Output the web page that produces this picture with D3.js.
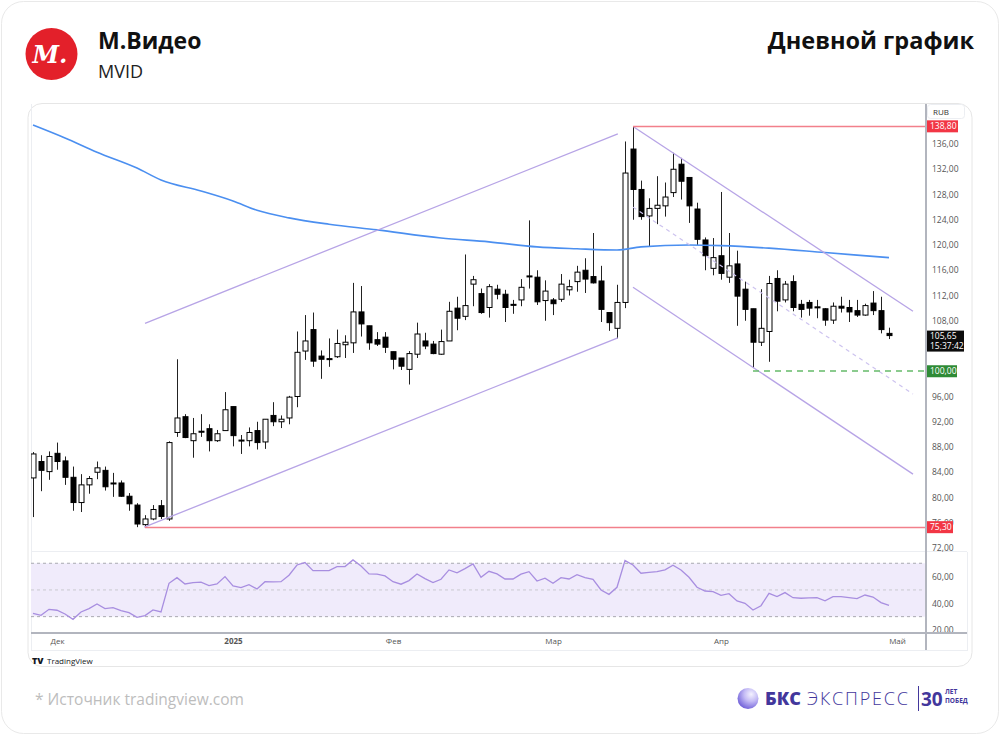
<!DOCTYPE html>
<html>
<head>
<meta charset="utf-8">
<script src="https://cdn.jsdelivr.net/npm/d3@7"></script>
<style>
  html, body { margin: 0; padding: 0; background: #fff; }
  svg { display: block; font-family: "Open Sans", "Noto Sans", sans-serif; }
</style>
</head>
<body>
<svg id="chart" width="1000" height="735"></svg>
<script>
// daily candles, MVID, end of Nov 2024 .. end of Apr 2025
const open = [83.1, 85.7, 84.1, 87.0, 85.8, 83.2, 79.2, 82.0, 84.0, 84.3,
  82.3, 82.3, 80.2, 78.8, 75.7, 76.6, 78.7, 76.6, 90.3, 92.8,
  89.0, 90.5, 90.9, 89.0, 90.6, 94.4, 89.1, 89.0, 90.6, 88.8,
  93.0, 92.0, 92.6, 96.0, 103.2, 106.6, 102.4, 102.0, 102.3, 104.2,
  104.5, 109.4, 107.2, 105.0, 105.4, 103.1, 102.1, 100.3, 102.7, 104.8,
  104.3, 102.7, 104.8, 110.0, 108.7, 113.8, 112.3, 110.1, 113.0, 112.2,
  110.6, 111.3, 115.1, 114.9, 111.2, 111.3, 111.4, 112.9, 114.2, 116.0,
  115.0, 114.3, 109.3, 106.8, 110.9, 135.2, 128.8, 124.6, 125.8, 126.2,
  128.3, 132.8, 130.7, 125.7, 120.8, 116.3, 118.3, 114.9, 117.0, 113.0,
  109.9, 104.6, 106.3, 114.7, 111.3, 114.2, 110.6, 110.9, 110.2, 109.9,
  108.1, 110.3, 110.1, 109.6, 108.9, 110.8, 109.6, 106.0];
const high = [87.2, 86.7, 87.3, 88.7, 86.5, 84.9, 83.7, 83.4, 85.7, 84.9,
  83.9, 82.7, 80.7, 79.1, 77.2, 78.8, 79.6, 88.9, 101.9, 93.2,
  92.6, 93.2, 91.6, 90.7, 96.7, 94.4, 89.9, 91.1, 92.0, 92.4,
  95.1, 93.0, 96.1, 106.3, 108.9, 109.3, 103.3, 105.2, 106.6, 105.7,
  114.0, 113.5, 107.2, 106.2, 106.2, 103.1, 102.1, 103.2, 107.7, 106.1,
  104.8, 106.6, 111.0, 111.8, 118.5, 115.1, 113.1, 113.8, 113.7, 112.9,
  111.3, 114.6, 123.9, 116.0, 114.4, 111.6, 115.4, 114.5, 116.7, 117.9,
  121.9, 116.7, 109.3, 113.7, 136.4, 138.8, 130.2, 127.4, 130.9, 129.9,
  134.6, 133.8, 130.7, 126.7, 121.2, 121.1, 128.4, 121.9, 119.1, 114.2,
  109.9, 113.0, 115.1, 116.0, 114.3, 115.2, 111.3, 111.3, 111.3, 110.0,
  110.9, 111.8, 111.3, 111.3, 110.7, 112.7, 111.8, 106.9];
const low = [76.9, 81.0, 82.8, 84.4, 82.0, 77.9, 77.7, 80.6, 82.9, 81.1,
  80.1, 80.1, 77.9, 75.3, 75.3, 76.4, 76.6, 76.3, 89.6, 89.4,
  86.3, 89.6, 87.3, 88.8, 90.6, 88.1, 86.9, 88.1, 87.6, 87.7,
  91.3, 91.0, 91.6, 94.3, 101.8, 100.7, 98.8, 100.7, 102.1, 102.1,
  102.9, 105.5, 103.4, 104.0, 102.9, 100.3, 100.2, 97.9, 102.1, 103.5,
  102.7, 102.6, 104.8, 106.5, 108.1, 110.3, 109.1, 108.5, 111.4, 107.8,
  109.1, 110.3, 113.1, 110.5, 108.0, 108.9, 111.0, 112.0, 112.6, 112.4,
  113.9, 107.8, 106.4, 105.2, 110.0, 124.0, 124.0, 119.7, 123.3, 124.5,
  127.6, 127.2, 123.5, 120.0, 116.0, 115.2, 114.5, 114.0, 107.2, 108.0,
  100.5, 104.0, 101.5, 109.5, 110.9, 109.5, 108.5, 108.8, 108.4, 107.2,
  107.5, 109.3, 107.8, 108.6, 108.8, 108.9, 106.0, 105.1];
const close = [86.9, 84.3, 86.5, 85.7, 83.2, 79.2, 82.0, 83.0, 84.7, 81.7,
  82.2, 80.2, 79.0, 75.8, 76.6, 78.1, 77.0, 88.7, 92.6, 89.5,
  90.1, 90.4, 89.0, 90.1, 93.9, 89.8, 89.0, 90.3, 88.7, 92.4,
  92.0, 92.4, 95.9, 103.0, 104.8, 101.6, 101.9, 101.9, 104.4, 104.6,
  109.4, 107.5, 104.5, 104.3, 103.8, 101.9, 100.8, 102.8, 105.9, 104.0,
  102.8, 104.7, 109.5, 108.4, 110.4, 114.5, 109.3, 113.4, 112.2, 110.1,
  110.5, 113.3, 115.0, 111.0, 112.7, 110.7, 113.8, 113.4, 115.7, 114.6,
  114.0, 109.8, 107.7, 110.9, 131.4, 128.8, 124.5, 125.8, 126.3, 127.6,
  132.0, 130.1, 126.2, 120.9, 118.3, 118.0, 115.5, 116.7, 111.9, 109.8,
  104.6, 106.8, 113.9, 111.1, 113.8, 110.1, 109.8, 110.0, 110.1, 108.1,
  110.3, 110.0, 109.4, 108.9, 110.4, 109.6, 106.6, 105.65];

// RSI(14) per candle
const rsi = [32.5, 31.0, 35.5, 34.8, 32.0, 28.0, 33.5, 36.0, 39.5, 36.0,
  36.7, 34.5, 33.0, 29.5, 30.8, 35.0, 33.5, 55.0, 59.2, 54.5,
  55.5, 55.8, 53.3, 54.5, 60.0, 53.0, 51.7, 54.0, 50.7, 56.2,
  56.0, 56.2, 61.0, 68.7, 70.5, 64.5, 64.5, 64.5, 67.5, 67.5,
  72.5, 68.0, 62.0, 61.8, 60.5, 56.2, 54.3, 57.0, 62.0, 58.5,
  55.5, 58.0, 65.0, 62.8, 66.0, 69.5, 59.5, 64.0, 62.0, 58.2,
  58.2, 61.8, 63.7, 56.7, 58.8, 55.0, 59.2, 58.2, 61.5, 59.2,
  58.0, 50.0, 46.7, 52.0, 72.0, 68.7, 62.5, 63.2, 63.7, 65.0,
  68.5, 65.0, 59.5, 52.0, 49.2, 48.7, 46.0, 47.2, 41.8, 40.0,
  35.0, 38.2, 47.5, 45.0, 48.0, 44.2, 43.8, 44.0, 44.2, 41.9,
  45.0, 45.0, 44.2, 43.5, 46.2, 44.7, 40.5, 38.5];

// moving average, read at a few candles
const maIdx = [0, 4, 8, 13, 16, 21, 25, 28, 32, 37, 43, 51, 57, 63, 68, 73, 76, 82, 86, 92, 99, 107];
const maVal = [139.0, 136.95, 134.7, 132.2, 130.3, 128.55, 126.97, 125.5, 124.3, 123.3, 122.4,
  121.1, 120.5, 119.7, 119.4, 119.2, 119.7, 120.0, 119.9, 119.5, 118.8, 118.0];

// drawings: [index1, price1, index2, price2]
const channelLines = [
  [14, 107.6, 73.1, 137.6],
  [13.9, 75.3, 73.1, 105.3],
  [75.1, 138.7, 110, 109.5],
  [75, 113.3, 110, 83.7]
];
const midLine = [75, 126.0, 110, 96.4];
const levelHigh = [75, 138.8];
const levelLow = [14, 75.3];
const levelSupport = [90, 100.0];
const lastPrice = 105.65;
const lastTime = "15:37:42";

const priceTicks = [72, 76, 80, 84, 88, 92, 96, 108, 112, 116, 120, 124, 128, 132, 136];
const rsiTicks = [20, 40, 60];
const monthIdx = [3, 25, 45, 65, 86, 108];
const monthLabels = ["Дек", "2025", "Фев", "Мар", "Апр", "Май"];

const svg = d3.select("#chart");
const fmt = v => d3.format(".2f")(v).replace(".", ",");

// card + header
svg.append("rect").attr("x", 1.5).attr("y", 1.5).attr("width", 997).attr("height", 732)
  .attr("rx", 22).attr("fill", "#fff").attr("stroke", "#e9e9e9");

svg.append("circle").attr("cx", 51.5).attr("cy", 54).attr("r", 26).attr("fill", "#e3202a");
svg.append("text").attr("x", 50).attr("y", 63).attr("text-anchor", "middle")
  .attr("font-family", "DejaVu Serif").attr("font-style", "italic").attr("font-weight", "bold")
  .attr("font-size", 24).attr("fill", "#fff").text("М.");

svg.append("text").attr("x", 98).attr("y", 49).attr("font-size", 23).attr("font-weight", 700)
  .attr("fill", "#111").text("М.Видео");
svg.append("text").attr("x", 98).attr("y", 78).attr("font-size", 18).attr("fill", "#222").text("MVID");
svg.append("text").attr("x", 974).attr("y", 49).attr("text-anchor", "end").attr("font-size", 23.5)
  .attr("font-weight", 700).attr("fill", "#111").text("Дневной график");

// chart panel
svg.append("rect").attr("x", 28).attr("y", 103.5).attr("width", 944).attr("height", 563)
  .attr("rx", 14).attr("fill", "#fff").attr("stroke", "#e6e6e6");

const x = d3.scaleLinear().domain([-0.5, 111.5]).range([29, 925]);
const y = d3.scaleLinear().domain([72, 136]).range([548, 144]);
const yR = d3.scaleLinear().domain([20, 60]).range([630, 576.6]);

const g = svg.append("g");
g.append("defs").append("clipPath").attr("id", "plot")
  .append("rect").attr("x", 31).attr("y", 104).attr("width", 894).attr("height", 447);
g.append("defs").append("clipPath").attr("id", "rsiclip")
  .append("rect").attr("x", 31).attr("y", 552).attr("width", 894).attr("height", 80);

// inner frame
g.append("line").attr("x1", 31.5).attr("x2", 31.5).attr("y1", 104).attr("y2", 650).attr("stroke", "#eceef2");
g.append("line").attr("x1", 31).attr("x2", 968).attr("y1", 650.5).attr("y2", 650.5).attr("stroke", "#eceef2");
g.append("line").attr("x1", 967.5).attr("x2", 967.5).attr("y1", 552).attr("y2", 650).attr("stroke", "#eceef2");
g.append("line").attr("x1", 31).attr("x2", 967).attr("y1", 551.5).attr("y2", 551.5).attr("stroke", "#eceef2");

// RSI pane
const rp = g.append("g").attr("clip-path", "url(#rsiclip)");
rp.append("rect").attr("x", 31).attr("width", 894).attr("y", yR(70)).attr("height", yR(30) - yR(70))
  .attr("fill", "#f0ebfb");
[70, 50, 30].forEach(v => {
  rp.append("line").attr("x1", 31).attr("x2", 925).attr("y1", yR(v)).attr("y2", yR(v))
    .attr("stroke", v === 50 ? "#c9c9cf" : "#a9a9b0").attr("stroke-dasharray", "3,3");
});
rp.append("path").datum(rsi)
  .attr("d", d3.line().x((d, i) => x(i)).y(d => yR(d)))
  .attr("fill", "none").attr("stroke", "#a88ee0").attr("stroke-width", 1.3);

// main pane
const mp = g.append("g").attr("clip-path", "url(#plot)");
const candles = mp.selectAll(".candle").data(open).join("g").attr("class", "candle");
const cx = i => Math.round(x(i)) + 0.5;
candles.append("line")
  .attr("x1", (d, i) => cx(i)).attr("x2", (d, i) => cx(i))
  .attr("y1", (d, i) => y(high[i])).attr("y2", (d, i) => y(low[i]))
  .attr("stroke", "#222").attr("stroke-width", 1);
candles.append("rect")
  .attr("x", (d, i) => cx(i) - 2.5).attr("width", 5)
  .attr("y", (d, i) => y(Math.max(open[i], close[i])))
  .attr("height", (d, i) => Math.max(1, Math.abs(y(open[i]) - y(close[i]))))
  .attr("fill", (d, i) => close[i] >= open[i] ? "#fff" : "#000")
  .attr("stroke", "#000").attr("stroke-width", 1);

mp.append("path").datum(maIdx.map((d, i) => [d, maVal[i]]))
  .attr("d", d3.line().x(d => x(d[0])).y(d => y(d[1])).curve(d3.curveMonotoneX))
  .attr("fill", "none").attr("stroke", "#4b8ff0").attr("stroke-width", 1.6);

mp.selectAll(".chan").data(channelLines).join("line").attr("class", "chan")
  .attr("x1", d => x(d[0])).attr("y1", d => y(d[1]))
  .attr("x2", d => x(d[2])).attr("y2", d => y(d[3]))
  .attr("stroke", "#b7a4e6").attr("stroke-width", 1.3);
mp.append("line")
  .attr("x1", x(midLine[0])).attr("y1", y(midLine[1]))
  .attr("x2", x(midLine[2])).attr("y2", y(midLine[3]))
  .attr("stroke", "#cdc3ef").attr("stroke-width", 1.2).attr("stroke-dasharray", "4,4");

[levelHigh, levelLow].forEach(l => {
  mp.append("line").attr("x1", x(l[0])).attr("x2", 925)
    .attr("y1", Math.round(y(l[1])) + 0.5).attr("y2", Math.round(y(l[1])) + 0.5)
    .attr("stroke", "#f2808b").attr("stroke-width", 1.3);
});
mp.append("line").attr("x1", x(levelSupport[0])).attr("x2", 925)
  .attr("y1", Math.round(y(levelSupport[1]))).attr("y2", Math.round(y(levelSupport[1])))
  .attr("stroke", "#66bb6a").attr("stroke-width", 1.5).attr("stroke-dasharray", "6,5");

// axes
const pa = g.append("g").attr("transform", "translate(926,0)")
  .call(d3.axisRight(y).tickValues(priceTicks).tickSize(0).tickPadding(6).tickFormat(fmt));
pa.select(".domain").remove();
pa.selectAll("text").attr("font-size", 8.5).attr("fill", "#555").attr("font-family", "Open Sans");

const ra = g.append("g").attr("transform", "translate(926,0)")
  .call(d3.axisRight(yR).tickValues(rsiTicks).tickSize(0).tickPadding(6).tickFormat(fmt));
ra.select(".domain").remove();
ra.selectAll("text").attr("font-size", 8.5).attr("fill", "#555").attr("font-family", "Open Sans");

const ta = g.append("g").attr("transform", "translate(0,634)")
  .call(d3.axisBottom(x).tickValues(monthIdx).tickSize(0).tickPadding(4)
    .tickFormat((d, i) => monthLabels[i]));
ta.select(".domain").remove();
ta.selectAll("text").attr("font-size", 8).attr("fill", "#555").attr("font-family", "Open Sans")
  .attr("font-weight", (d, i) => monthLabels[i] === "2025" ? 700 : 400);

g.append("line").attr("x1", 926).attr("x2", 926).attr("y1", 104).attr("y2", 650)
  .attr("stroke", "#b2b5be").attr("stroke-width", 2);
g.append("line").attr("x1", 31).attr("x2", 967).attr("y1", 633).attr("y2", 633)
  .attr("stroke", "#b2b5be").attr("stroke-width", 2);

// axis labels
g.append("rect").attr("x", 927.5).attr("y", 104.5).attr("width", 37).attr("height", 14).attr("rx", 3)
  .attr("fill", "#fff").attr("stroke", "#eceef2");
g.append("text").attr("x", 933).attr("y", 114.5).attr("font-size", 8).attr("fill", "#333").text("RUB");

function tag(v, col, w) {
  const yy = y(v);
  g.append("rect").attr("x", 927).attr("y", yy - 6).attr("width", w).attr("height", 12).attr("fill", col);
  g.append("text").attr("x", 930).attr("y", yy + 3).attr("font-size", 8.5).attr("fill", "#fff").text(fmt(v));
}
tag(levelHigh[1], "#f23645", 31);
tag(levelSupport[1], "#2e8b36", 30);
tag(levelLow[1], "#f23645", 26);
const ly = y(lastPrice);
g.append("rect").attr("x", 927).attr("y", ly - 5).attr("width", 37).attr("height", 21).attr("fill", "#0c0c0c");
g.append("text").attr("x", 930).attr("y", ly + 3).attr("font-size", 8.5).attr("fill", "#fff").text(fmt(lastPrice));
g.append("text").attr("x", 930).attr("y", ly + 13).attr("font-size", 8.5).attr("fill", "#fff").text(lastTime);

// TradingView mark
g.append("text").attr("x", 32).attr("y", 664).attr("font-size", 9).attr("font-weight", 900)
  .attr("fill", "#131722").text("TV");
g.append("text").attr("x", 47).attr("y", 664).attr("font-size", 8).attr("fill", "#131722").text("TradingView");

// footer
svg.append("text").attr("x", 35).attr("y", 705).attr("font-size", 15.5).attr("fill", "#bdbdbd")
  .text("*  Источник tradingview.com");

const grad = svg.append("defs").append("radialGradient").attr("id", "sph")
  .attr("cx", "65%").attr("cy", "30%").attr("r", "75%");
grad.append("stop").attr("offset", "0%").attr("stop-color", "#f4f2ff");
grad.append("stop").attr("offset", "45%").attr("stop-color", "#c4bbf5");
grad.append("stop").attr("offset", "100%").attr("stop-color", "#6f5fd8");
svg.append("circle").attr("cx", 748).attr("cy", 698.5).attr("r", 10.5).attr("fill", "url(#sph)");
svg.append("text").attr("x", 765).attr("y", 705).attr("font-size", 18).attr("font-weight", 800)
  .attr("fill", "#43379c").text("БКС");
svg.append("text").attr("x", 807).attr("y", 705).attr("font-size", 18).attr("font-weight", 300)
  .attr("fill", "#43379c").attr("textLength", 101).text("ЭКСПРЕСС");
svg.append("line").attr("x1", 918.5).attr("x2", 918.5).attr("y1", 686).attr("y2", 711)
  .attr("stroke", "#43379c").attr("stroke-width", 1);
svg.append("text").attr("x", 921).attr("y", 706).attr("font-size", 19).attr("font-weight", 700)
  .attr("fill", "#43379c").text("30");
svg.append("text").attr("x", 945).attr("y", 694).attr("font-size", 6.5).attr("font-weight", 700)
  .attr("fill", "#43379c").text("ЛЕТ");
svg.append("text").attr("x", 945).attr("y", 703).attr("font-size", 6.5).attr("font-weight", 700)
  .attr("fill", "#43379c").text("ПОБЕД");
</script>
</body>
</html>
